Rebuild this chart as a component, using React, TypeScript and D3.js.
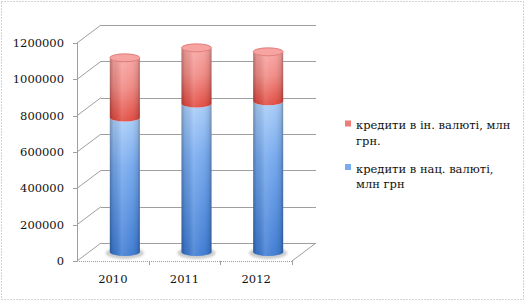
import React from "react";
import * as d3 from "d3";

const years = ["2010", "2011", "2012"];
const natCurrency = [741000, 818000, 830000];
const forCurrency = [328000, 306000, 272000];
const yTicks = [0, 200000, 400000, 600000, 800000, 1000000, 1200000];
const legendLabels = [
  ["кредити в ін. валюті, млн", "грн."],
  ["кредити в нац. валюті,", "млн грн"],
];

const W = 527;
const H = 302;
const DX = 24;
const DY = -18;
const FONT = "'DejaVu Serif', serif";

export default function App() {
  const x = d3.scaleBand<string>().domain(years).range([77, 292]).padding(0);
  const y = d3.scaleLinear().domain([0, 1200000]).range([261, 43]);
  const bw = x.bandwidth();
  const rx = 15;
  const ry = 4;
  const mdx = DX / 2;
  const mdy = DY / 2;

  const series = [
    { key: "nat", vals: natCurrency, base: natCurrency.map(() => 0), grad: "gBlue" },
    { key: "for", vals: forCurrency, base: natCurrency, grad: "gRed" },
  ];

  const body = (cx: number, y0: number, y1: number) =>
    `M${cx - rx},${y1} L${cx - rx},${y0} A${rx},${ry} 0 0 0 ${cx + rx},${y0} L${cx + rx},${y1} A${rx},${ry} 0 0 1 ${cx - rx},${y1} Z`;

  const gridColor = "#9f9f9f";

  return (
    <svg width={W} height={H} style={{ position: "absolute", left: 0, top: 0 }} fontFamily={FONT}>
      <defs>
        <linearGradient id="gBlue" x1="0" y1="0" x2="0" y2="1">
          <stop offset="0" stopColor="#a9cdf8" />
          <stop offset="0.35" stopColor="#74a8ee" />
          <stop offset="1" stopColor="#3b79d2" />
        </linearGradient>
        <linearGradient id="gRed" x1="0" y1="0" x2="0" y2="1">
          <stop offset="0" stopColor="#f8a4a2" />
          <stop offset="0.45" stopColor="#f08882" />
          <stop offset="1" stopColor="#e0463c" />
        </linearGradient>
        <linearGradient id="gShade" x1="0" y1="0" x2="1" y2="0">
          <stop offset="0" stopColor="#000" stopOpacity="0.28" />
          <stop offset="0.12" stopColor="#000" stopOpacity="0.08" />
          <stop offset="0.4" stopColor="#fff" stopOpacity="0.15" />
          <stop offset="0.7" stopColor="#fff" stopOpacity="0.05" />
          <stop offset="0.92" stopColor="#000" stopOpacity="0.1" />
          <stop offset="1" stopColor="#000" stopOpacity="0.3" />
        </linearGradient>
        <filter id="blur" x="-50%" y="-50%" width="200%" height="200%">
          <feGaussianBlur stdDeviation="1.2" />
        </filter>
      </defs>
      <rect x={1.5} y={1.5} width={522} height={298} fill="#fff" stroke="#a8a8a8" strokeDasharray="1,2" />

      {/* gridlines */}
      <g stroke={gridColor} strokeWidth={1} fill="none">
        {yTicks.map((t) => {
          const yf = y(t);
          return (
            <g key={t}>
              <line x1={77} y1={yf} x2={77 + DX} y2={yf + DY} />
              <line x1={77 + DX} y1={Math.round(yf + DY) + 0.5} x2={292 + DX} y2={Math.round(yf + DY) + 0.5} />
              <line x1={73} y1={Math.round(yf) + 0.5} x2={77} y2={Math.round(yf) + 0.5} />
            </g>
          );
        })}
        <line x1={77.5} y1={y(1200000)} x2={77.5} y2={y(0)} />
        <line x1={77} y1={Math.round(y(0)) + 0.5} x2={292} y2={Math.round(y(0)) + 0.5} strokeDasharray="1,1" />
        <line x1={292} y1={y(0)} x2={292 + DX} y2={y(0) + DY} />
        {years.map((c) => (
          <line key={c} x1={Math.round((x(c) as number) + bw) + 0.5} y1={y(0)} x2={Math.round((x(c) as number) + bw) + 0.5} y2={y(0) + 4} />
        ))}
      </g>

      {/* y labels */}
      <g fontSize={11.5} fill="#111" textAnchor="end">
        {yTicks.map((t) => (
          <text key={t} x={64} y={y(t)} dy="0.36em">
            {t}
          </text>
        ))}
      </g>
      {/* x labels */}
      <g fontSize={11.5} fill="#111" textAnchor="middle">
        {years.map((c) => (
          <text key={c} x={(x(c) as number) + bw / 2} y={283}>
            {c}
          </text>
        ))}
      </g>

      {/* cylinders */}
      {years.map((c, i) => {
        const cx = (x(c) as number) + bw / 2 + mdx;
        const yb = y(0) + mdy;
        const total = natCurrency[i] + forCurrency[i];
        const yt = y(total) + mdy;
        return (
          <g key={c}>
            <ellipse cx={cx} cy={yb + 1} rx={rx + 4} ry={ry + 2} fill="#cccccc" filter="url(#blur)" />
            {series.map((s) => {
              const y0 = y(s.base[i]) + mdy;
              const y1 = y(s.base[i] + s.vals[i]) + mdy;
              const d = body(cx, y0, y1);
              return (
                <g key={s.key}>
                  <path d={d} fill={`url(#${s.grad})`} />
                  <path d={d} fill="url(#gShade)" />
                </g>
              );
            })}
            <ellipse cx={cx} cy={yt} rx={rx} ry={ry} fill="#f6a4a2" stroke="#da6e6a" strokeWidth={0.8} />
          </g>
        );
      })}

      {/* legend */}
      <g fontSize={11.5} fill="#111">
        {legendLabels.map((lines, i) => {
          const by = 129 + i * 43.5;
          return (
            <g key={i}>
              <rect x={345} y={by - 8.5} width={6} height={6} fill={i === 0 ? "#ee7d77" : "#79acee"} />
              {lines.map((ln, j) => (
                <text key={j} x={356} y={by + j * 15.5}>
                  {ln}
                </text>
              ))}
            </g>
          );
        })}
      </g>
    </svg>
  );
}
